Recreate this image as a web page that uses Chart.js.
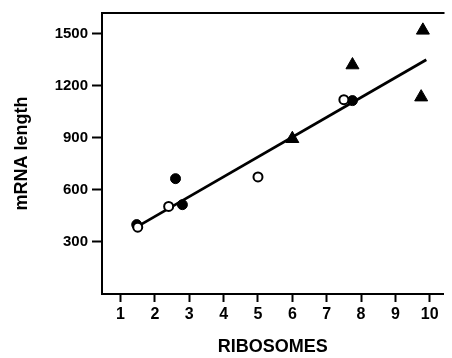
<!DOCTYPE html>
<html>
<head>
<meta charset="utf-8">
<script src="https://cdn.jsdelivr.net/npm/chart.js@4/dist/chart.umd.min.js"></script>
<style>
    body { margin: 0; background: #ffffff; }
    canvas { display: block; }
</style>
</head>
<body>
<canvas id="riboChart" width="452" height="358"></canvas>
<script>
// ==========================
// DATA
// ==========================

let openX = [1.5, 2.4, 5.0, 7.5];
let openY = [385, 505, 675, 1120];

let filledX = [1.47, 2.6, 2.8, 7.75];
let filledY = [400, 665, 515, 1115];

let triX = [6.0, 7.75, 9.8, 9.75];
let triY = [895, 1320, 1520, 1135];

let fitX = [1.5, 9.9];
let fitY = [390, 1350];

let xTicks = [1, 2, 3, 4, 5, 6, 7, 8, 9, 10];
let yTicks = [300, 600, 900, 1200, 1500];

// ==========================
// HELPERS
// ==========================

const toPoints = (xs, ys) =>
xs.map((x, i) => ({ x: x, y: ys[i] }));

const fontFamily =
"'Liberation Sans', Arial, Helvetica, sans-serif";

// top frame line
const framePlugin = {
    id: "frame",
    afterDraw(chart) {
        const a = chart.chartArea;
        const ctx = chart.ctx;
        ctx.save();
        ctx.strokeStyle = "#000";
        ctx.lineWidth = 2;
        ctx.beginPath();
        ctx.moveTo(a.left - 1, a.top);
        ctx.lineTo(a.right + 1, a.top);
        ctx.stroke();
        ctx.restore();
    }
};

// ==========================
// CHART
// ==========================

new Chart(
    document.getElementById("riboChart"),
    {
        type: "scatter",
        data: {
            datasets: [
                {
                    label: "fit",
                    data: toPoints(fitX, fitY),
                    showLine: true,
                    borderColor: "#000",
                    borderWidth: 2.8,
                    pointRadius: 0,
                    order: 10
                },
                {
                    label: "open",
                    data: toPoints(openX, openY),
                    pointStyle: "circle",
                    pointRadius: 4.5,
                    backgroundColor: "#fff",
                    borderColor: "#000",
                    borderWidth: 2,
                    order: 1
                },
                {
                    label: "filled",
                    data: toPoints(filledX, filledY),
                    pointStyle: "circle",
                    pointRadius: 5,
                    backgroundColor: "#000",
                    borderColor: "#000",
                    borderWidth: 1,
                    order: 1
                },
                {
                    label: "triangles",
                    data: toPoints(triX, triY),
                    pointStyle: "triangle",
                    pointRadius: 7.5,
                    backgroundColor: "#000",
                    borderColor: "#000",
                    borderWidth: 1,
                    order: 1
                }
            ]
        },
        options: {
            responsive: false,
            animation: false,
            events: [],
            layout: {
                padding: { left: 0, right: 1, top: 13, bottom: 0 }
            },
            plugins: {
                legend: { display: false },
                tooltip: { enabled: false }
            },
            scales: {
                x: {
                    type: "linear",
                    min: 0.46,
                    max: 10.4,
                    afterBuildTicks: s => {
                        s.ticks = xTicks.map(v => ({ value: v }));
                    },
                    afterFit: s => { s.height = 64; },
                    border: { display: true, color: "#000", width: 2 },
                    grid: {
                        drawOnChartArea: false,
                        drawTicks: true,
                        tickLength: 8,
                        tickColor: "#000",
                        tickWidth: 2
                    },
                    ticks: {
                        color: "#000",
                        padding: 3,
                        maxRotation: 0,
                        autoSkip: false,
                        callback: v => String(v),
                        font: { family: fontFamily, size: 16, weight: "bold" }
                    },
                    title: {
                        display: true,
                        text: "RIBOSOMES",
                        color: "#000",
                        padding: { top: 0, bottom: 0 },
                        font: { family: fontFamily, size: 18, weight: "bold" }
                    }
                },
                y: {
                    type: "linear",
                    min: 0,
                    max: 1620,
                    afterBuildTicks: s => {
                        s.ticks = yTicks.map(v => ({ value: v }));
                    },
                    afterFit: s => { s.width = 102; },
                    border: { display: true, color: "#000", width: 2 },
                    grid: {
                        drawOnChartArea: false,
                        drawTicks: true,
                        tickLength: 10,
                        tickColor: "#000",
                        tickWidth: 2
                    },
                    ticks: {
                        color: "#000",
                        padding: 4,
                        autoSkip: false,
                        callback: v => String(v),
                        font: { family: fontFamily, size: 15, weight: "bold" }
                    },
                    title: {
                        display: true,
                        text: "mRNA length",
                        color: "#000",
                        padding: { top: 11, bottom: 0 },
                        font: { family: fontFamily, size: 18, weight: "bold" }
                    }
                }
            }
        },
        plugins: [framePlugin]
    }
);
</script>
</body>
</html>
